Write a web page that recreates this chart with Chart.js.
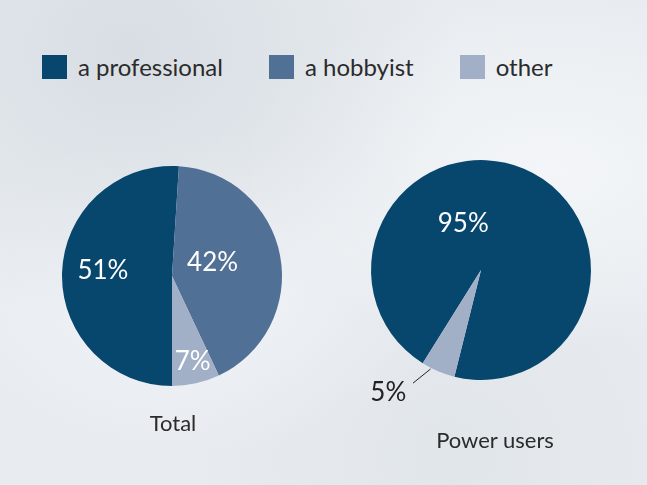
<!DOCTYPE html>
<html>
<head>
<meta charset="utf-8">
<script src="https://cdn.jsdelivr.net/npm/chart.js@4/dist/chart.umd.min.js"></script>
<style>
    html, body {
        margin: 0;
        padding: 0;
    }
    body {
        width: 647px;
        height: 485px;
        overflow: hidden;
        position: relative;
        font-family: Lato, "Noto Sans", sans-serif;
        color: #2b2b2b;
        background-color: #e8ecf0;
        background-image:
            radial-gradient(ellipse at 20% 10%, rgba(205, 212, 220, 0.6), rgba(232, 236, 240, 0) 45%),
            radial-gradient(ellipse at 85% 35%, rgba(246, 248, 250, 0.8), rgba(232, 236, 240, 0) 40%),
            radial-gradient(ellipse at 30% 60%, rgba(244, 246, 249, 0.7), rgba(232, 236, 240, 0) 40%),
            radial-gradient(ellipse at 70% 95%, rgba(222, 227, 233, 0.7), rgba(232, 236, 240, 0) 45%);
    }
    #legend {
        position: absolute;
        left: 42px;
        top: 55px;
        display: flex;
        gap: 46px;
    }
    .item {
        display: flex;
        align-items: center;
        font-size: 24px;
        line-height: 24px;
    }
    .swatch {
        width: 25px;
        height: 24px;
        margin-right: 11px;
    }
    canvas {
        position: absolute;
    }
    #totalChart { left: 2px; top: 106px; }
    #powerChart { left: 311px; top: 100px; }
    .caption {
        position: absolute;
        font-size: 22px;
        width: 200px;
        text-align: center;
    }
</style>
</head>
<body>
<div id="legend"></div>
<canvas id="totalChart" width="340" height="340"></canvas>
<canvas id="powerChart" width="340" height="340"></canvas>
<div class="caption" id="totalCaption" style="left: 73px; top: 409px;"></div>
<div class="caption" id="powerCaption" style="left: 395px; top: 426px;"></div>

<script>
/* data */
const categories = ['a professional', 'a hobbyist', 'other'];
const totalValues = [51, 42, 7];
const powerValues = [95, 0, 5];
const chartTitles = ['Total', 'Power users'];

const colors = ['#08476d', '#517096', '#a1afc7'];

/* where each percent label sits: r = fraction of radius, a = angle shift in degrees */
const totalLabelPos = [{ r: 0.63, a: 3 }, { r: 0.39, a: -8 }, { r: 0.80, a: -1 }];
const powerLabelPos = [{ r: 0.45, a: -44 }, null, { r: 1.40, a: 14, outside: true }];

/* legend built from the category list */
const legend = document.getElementById('legend');
categories.forEach((name, i) => {
    const item = document.createElement('div');
    item.className = 'item';
    const sw = document.createElement('div');
    sw.className = 'swatch';
    sw.style.background = colors[i];
    const txt = document.createElement('span');
    txt.textContent = name;
    item.appendChild(sw);
    item.appendChild(txt);
    legend.appendChild(item);
});
document.getElementById('totalCaption').textContent = chartTitles[0];
document.getElementById('powerCaption').textContent = chartTitles[1];

const pieLabels = {
    id: 'pieLabels',
    afterDatasetsDraw(chart, args, opts) {
        const ctx = chart.ctx;
        const meta = chart.getDatasetMeta(0);
        const values = chart.data.datasets[0].data;
        ctx.save();
        ctx.font = '26px Lato, "Noto Sans", sans-serif';
        ctx.textAlign = 'center';
        ctx.textBaseline = 'middle';
        meta.data.forEach((arc, i) => {
            const pos = opts.positions[i];
            if (!pos || !values[i]) return;
            const p = arc.getProps(['x', 'y', 'startAngle', 'endAngle', 'outerRadius'], true);
            const mid = (p.startAngle + p.endAngle) / 2;
            const ang = mid + pos.a * Math.PI / 180;
            const tx = p.x + Math.cos(ang) * p.outerRadius * pos.r;
            const ty = p.y + Math.sin(ang) * p.outerRadius * pos.r;
            if (pos.outside) {
                /* leader line from the slice edge toward the label */
                const a1 = mid + 4 * Math.PI / 180;
                const a2 = mid + 8 * Math.PI / 180;
                ctx.strokeStyle = '#222';
                ctx.lineWidth = 1;
                ctx.beginPath();
                ctx.moveTo(p.x + Math.cos(a1) * p.outerRadius * 1.01, p.y + Math.sin(a1) * p.outerRadius * 1.01);
                ctx.lineTo(p.x + Math.cos(a2) * p.outerRadius * 1.2, p.y + Math.sin(a2) * p.outerRadius * 1.2);
                ctx.stroke();
                ctx.fillStyle = '#222';
            } else {
                ctx.fillStyle = '#ffffff';
            }
            ctx.fillText(values[i] + '%', tx, ty);
        });
        ctx.restore();
    }
};

function makePie(id, values, rotation, positions) {
    new Chart(document.getElementById(id), {
        type: 'pie',
        data: {
            labels: categories,
            datasets: [{
                data: values,
                backgroundColor: colors,
                borderWidth: 0
            }]
        },
        options: {
            responsive: false,
            animation: false,
            rotation: rotation,
            layout: { padding: 60 },
            plugins: {
                legend: { display: false },
                tooltip: { enabled: false },
                pieLabels: { positions: positions }
            }
        },
        plugins: [pieLabels]
    });
}

makePie('totalChart', totalValues, 180, totalLabelPos);
makePie('powerChart', powerValues, 212, powerLabelPos);
</script>
</body>
</html>
